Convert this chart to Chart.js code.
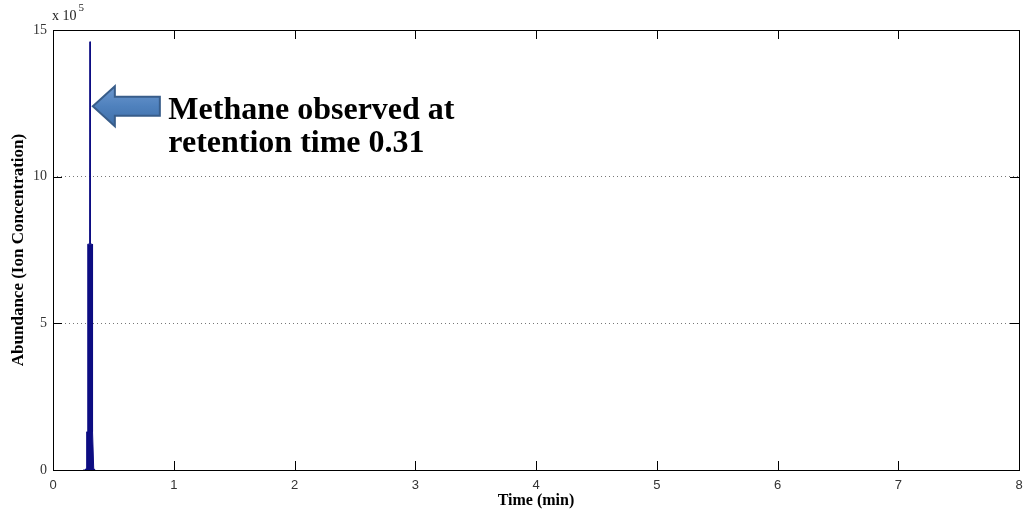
<!DOCTYPE html>
<html><head><meta charset="utf-8">
<script src="https://cdn.jsdelivr.net/npm/chart.js@4"></script>
<style>html,body{margin:0;padding:0;background:#fff}#wrap{width:1031px;height:514px}</style>
</head><body><div id="wrap"><canvas id="c" width="1031" height="514"></canvas></div>
<script>
// Data (time in minutes, abundance in ion counts) – envelope of the methane peak
const times =     [0.250, 0.266, 0.276, 0.279, 0.287, 0.288,  0.304,  0.3065,  0.309,  0.324,  0.325,  0.330,  0.337, 0.347, 0.350];
const abundance = [0,     0,     6000,  130000, 130000, 770000, 770000, 1460000, 770000, 770000, 130000, 130000, 6000,  0,     0];
const xTicks = [0,1,2,3,4,5,6,7,8];
const yTicks = [0,5,10,15]; // x 10^5
const annotationLines = ['Methane observed at', 'retention time 0.31'];
const arrowTip = {t: 0.33, v: 1240000};
const textAnchor = {t: 0.955, v: 1195000};

const SERIF = '"Liberation Serif", "Times New Roman", serif';
const SANS = '"Liberation Sans", Arial, sans-serif';
const LINE = '#0c0c82';

const framePlugin = {
  id: 'frame',
  afterDraw(chart) {
    const {ctx, chartArea: a, scales: {x, y}} = chart;
    ctx.save();
    ctx.strokeStyle = '#000';
    ctx.lineWidth = 1;
    ctx.strokeRect(Math.round(a.left) + 0.5, Math.round(a.top) + 0.5, Math.round(a.right - a.left), Math.round(a.bottom - a.top));
    ctx.beginPath();
    const tl = 9;
    xTicks.forEach(v => {
      const px = Math.round(x.getPixelForValue(v)) + 0.5;
      ctx.moveTo(px, a.bottom); ctx.lineTo(px, a.bottom - tl);
      ctx.moveTo(px, a.top); ctx.lineTo(px, a.top + tl);
    });
    yTicks.forEach(v => {
      const py = Math.round(y.getPixelForValue(v * 1e5)) + 0.5;
      ctx.moveTo(a.left, py); ctx.lineTo(a.left + tl, py);
      ctx.moveTo(a.right, py); ctx.lineTo(a.right - tl, py);
    });
    ctx.stroke();
    // exponent label
    ctx.fillStyle = '#222';
    ctx.font = '14px ' + SERIF;
    ctx.textBaseline = 'alphabetic';
    ctx.textAlign = 'left';
    ctx.fillText('x 10', a.left - 1, a.top - 10);
    const w = ctx.measureText('x 10').width;
    ctx.font = '11px ' + SERIF;
    ctx.fillText('5', a.left + w + 1, a.top - 19);
    ctx.restore();
  },
  afterDatasetsDraw(chart) {
    const {ctx, scales: {x, y}} = chart;
    const tx = x.getPixelForValue(arrowTip.t), ty = y.getPixelForValue(arrowTip.v);
    ctx.save();
    // block arrow pointing left
    const headLen = 22, headHalf = 20, shaftHalf = 9.5, shaftEnd = 67;
    ctx.beginPath();
    ctx.moveTo(tx, ty);
    ctx.lineTo(tx + headLen, ty - headHalf);
    ctx.lineTo(tx + headLen, ty - shaftHalf);
    ctx.lineTo(tx + shaftEnd, ty - shaftHalf);
    ctx.lineTo(tx + shaftEnd, ty + shaftHalf);
    ctx.lineTo(tx + headLen, ty + shaftHalf);
    ctx.lineTo(tx + headLen, ty + headHalf);
    ctx.closePath();
    const g = ctx.createLinearGradient(0, ty - headHalf, 0, ty + headHalf);
    g.addColorStop(0, '#6d98cf');
    g.addColorStop(0.5, '#4f81bd');
    g.addColorStop(1, '#3f6fa8');
    ctx.fillStyle = g;
    ctx.fill();
    ctx.lineWidth = 2;
    ctx.strokeStyle = '#385d8a';
    ctx.stroke();
    // text
    const sx = x.getPixelForValue(textAnchor.t), sy = y.getPixelForValue(textAnchor.v);
    ctx.fillStyle = '#000';
    ctx.font = 'bold 32px ' + SERIF;
    ctx.textAlign = 'left';
    ctx.textBaseline = 'alphabetic';
    annotationLines.forEach((s, i) => ctx.fillText(s, sx, sy + i * 33));
    ctx.restore();
  }
};

new Chart(document.getElementById('c'), {
  type: 'line',
  data: {
    datasets: [{
      data: times.map((t, i) => ({x: t, y: abundance[i]})),
      borderColor: LINE,
      backgroundColor: LINE,
      borderWidth: 1,
      pointRadius: 0,
      tension: 0,
      fill: 'origin'
    }]
  },
  options: {
    responsive: false,
    animation: false,
    devicePixelRatio: 1,
    layout: {padding: {top: 30, right: 12, left: 0, bottom: 0}},
    plugins: {legend: {display: false}, tooltip: {enabled: false}},
    scales: {
      x: {
        type: 'linear', min: 0, max: 8,
        afterBuildTicks(s) { s.ticks = xTicks.map(v => ({value: v})); },
        afterFit(s) { s.height = 44; },
        grid: {display: false, drawTicks: false},
        border: {display: false},
        ticks: {font: {family: SANS, size: 13}, color: '#333', padding: 8, maxRotation: 0},
        title: {display: true, text: 'Time (min)', font: {family: SERIF, size: 16, weight: 'bold'}, color: '#000', padding: {top: 0, bottom: 4}}
      },
      y: {
        type: 'linear', min: 0, max: 1500000,
        afterBuildTicks(s) { s.ticks = yTicks.map(v => ({value: v * 1e5})); },
        afterFit(s) { s.width = 53; },
        grid: {
          drawTicks: false,
          color: ctx => (ctx.tick && (ctx.tick.value === 0 || ctx.tick.value === 1500000)) ? 'rgba(0,0,0,0)' : '#777',
          lineWidth: 1
        },
        border: {display: false, dash: [1, 3]},
        ticks: {font: {family: SERIF, size: 14}, color: '#333', padding: 6, callback: v => String(v / 1e5)},
        title: {display: true, text: 'Abundance (Ion Concentration)', font: {family: SERIF, size: 17, weight: 'bold'}, color: '#000', padding: {top: 8, bottom: 0}}
      }
    }
  },
  plugins: [framePlugin]
});
</script>
</body></html>
